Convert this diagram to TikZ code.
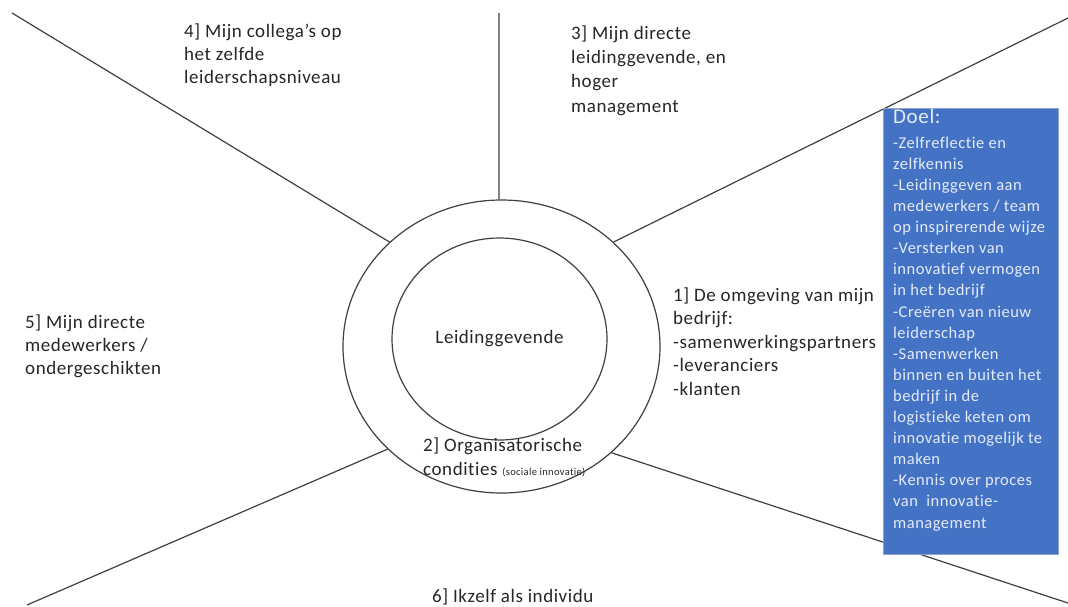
\documentclass[tikz,border=0pt]{standalone}
\usepackage{fontspec}
\setmainfont{Carlito}[LetterSpace=3,Ligatures={NoCommon,NoRare}]
\usetikzlibrary{shapes.geometric}
\definecolor{linegray}{HTML}{404040}
\definecolor{boxblue}{HTML}{4472C4}
\definecolor{boxedge}{HTML}{8FA3C8}
\definecolor{boxtext}{HTML}{E4EBF7}
\definecolor{txt}{HTML}{262626}
\begin{document}
\begin{tikzpicture}[x=1pt,y=-1pt,
  spoke/.style={draw=linegray,line width=1.2pt},
  ring/.style={draw=linegray,line width=1.2pt,ellipse,inner sep=0pt},
  lbl/.style={anchor=base west,inner sep=0pt,align=left,text=txt,
    font=\fontsize{19}{23}\selectfont},
  goalbox/.style={anchor=north west,draw=boxedge,fill=boxblue,line width=0.8pt,
    minimum width=175pt,minimum height=446pt,inner sep=0pt},
  goaltxt/.style={anchor=base west,inner sep=0pt,align=left,text=boxtext,
    font=\fontsize{16.5}{21.1}\selectfont}]
\useasboundingbox (0,0) rectangle (1068,606);
\fill[white] (0,0) rectangle (1068,606);

\coordinate (e1) at (12,13);
\coordinate (e2) at (499,13);
\coordinate (e3) at (1068,18);
\coordinate (e4) at (27,605);
\coordinate (e5) at (1068,603);

\node[ring,minimum width=317pt,minimum height=293pt] (outer) at (501.5,346.5) {};
\node[ring,minimum width=215pt,minimum height=202pt,text=txt,
  font=\fontsize{19}{23}\selectfont] (inner) at (499.5,339) {Leidinggevende};

\draw[spoke] (e1) -- (outer.137.6);
\draw[spoke] (e2) -- (outer.91);
\draw[spoke] (e3) -- (outer.43.7);
\draw[spoke] (e4) -- (outer.222.4);
\draw[spoke] (e5) -- (outer.316.9);

\node[lbl] (t4) at (184,83) {4] Mijn collega’s op\\het zelfde\\leiderschapsniveau};
\node[lbl,font=\fontsize{19}{24.3}\selectfont] (t3) at (571,112) {3] Mijn directe\\leidinggevende, en\\hoger\\management};
\node[lbl,font=\fontsize{19}{23.5}\selectfont] (t1) at (673,395) {1] De omgeving van mijn\\bedrijf:\\-samenwerkingspartners\\-leveranciers\\-klanten};
\node[lbl,font=\fontsize{19}{24}\selectfont] (t2) at (423,475) {2] Organisatorische\\condities {\fontsize{10.5}{11}\selectfont(sociale innovatie)}};
\node[lbl] (t5) at (25,374) {5] Mijn directe\\medewerkers /\\ondergeschikten};
\node[lbl] (t6) at (432,602) {6] Ikzelf als individu};

\node[goalbox] (goal) at (883,108) {};
\node[anchor=base west,inner sep=0pt,text=boxtext,font=\fontsize{21}{25}\selectfont] (doel) at (893,123) {Doel:};
\node[goaltxt] (goallist) at (893,528) {-Zelfreflectie en\\zelfkennis\\-Leidinggeven aan\\medewerkers / team\\op inspirerende wijze\\-Versterken van\\innovatief vermogen\\in het bedrijf\\-Creëren van nieuw\\leiderschap\\-Samenwerken\\binnen en buiten het\\bedrijf in de\\logistieke keten om\\innovatie mogelijk te\\maken\\-Kennis over proces\\van~ innovatie-\\management};
\end{tikzpicture}
\end{document}
